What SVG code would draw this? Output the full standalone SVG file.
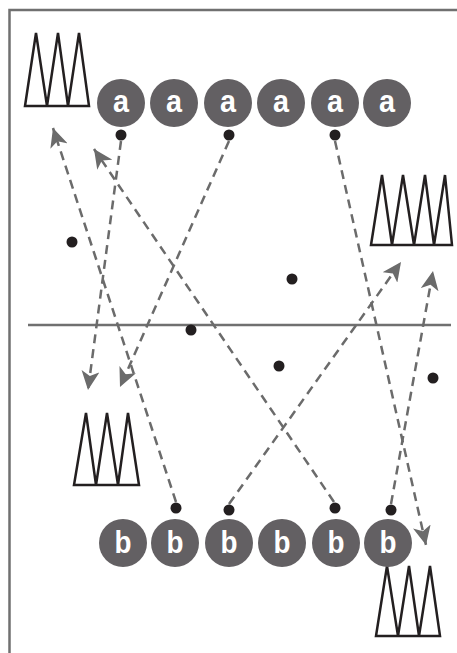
<svg xmlns="http://www.w3.org/2000/svg" width="457" height="653" viewBox="0 0 457 653">
<style>
.frame{fill:none;stroke:#707070;stroke-width:2.5}
.cone{fill:#fff;stroke:#231f20;stroke-width:2.5;stroke-linejoin:miter}
.pl{fill:#636063}
.lbl{fill:#fff;font-family:"Liberation Sans",Arial,sans-serif;font-weight:bold;font-size:31px;text-anchor:middle}
.dot{fill:#231f20}
.arr{fill:none;stroke:#6b6b6b;stroke-width:2.5;stroke-dasharray:9 6;marker-end:url(#ah)}
</style>
<defs>
<marker id="ah" markerUnits="userSpaceOnUse" markerWidth="20" markerHeight="18" refX="19" refY="9" orient="auto" viewBox="0 0 20 18">
<path d="M0,0 L19,9 L0,18 L5,9 Z" fill="#6b6b6b"/>
</marker>
</defs>
<rect width="457" height="653" fill="#fff"/>
<g id="field">
<path class="frame" d="M9.5,653 V10 H457"/>
<line class="frame" x1="28" y1="325" x2="451" y2="325"/>
</g>
<g id="cones-top-left"><path class="cone" d="M25,106 L36,33 L47,106 L58,33 L68,106 L79,33 L89,106 Z"/></g>
<g id="cones-right"><path class="cone" d="M371,245 L382,175 L392,245 L403,175 L414,245 L425,175 L434,245 L445,175 L452,245 Z"/></g>
<g id="cones-bottom-left"><path class="cone" d="M74,485 L86,413 L96,485 L107,413 L118,485 L128,413 L139,485 Z"/></g>
<g id="cones-bottom-right"><path class="cone" d="M376,636 L387,566 L398,636 L409,566 L419,636 L430,566 L440,636 Z"/></g>
<g id="connectors">
<path class="arr" d="M121,141 L88,390"/>
<path class="arr" d="M229,141 L120,387"/>
<path class="arr" d="M335,141 L426,545"/>
<path class="arr" d="M176,502 L53,128"/>
<path class="arr" d="M334,502 L94,149"/>
<path class="arr" d="M229,504 L401,262"/>
<path class="arr" d="M391,504 L433,271"/>
</g>
<g id="players-a">
<g id="a1"><circle class="pl" cx="121" cy="103" r="24"/><text class="lbl" x="121" y="112" textLength="16" lengthAdjust="spacingAndGlyphs">a</text></g>
<g id="a2"><circle class="pl" cx="174" cy="103" r="24"/><text class="lbl" x="174" y="112" textLength="16" lengthAdjust="spacingAndGlyphs">a</text></g>
<g id="a3"><circle class="pl" cx="228" cy="103" r="24"/><text class="lbl" x="228" y="112" textLength="16" lengthAdjust="spacingAndGlyphs">a</text></g>
<g id="a4"><circle class="pl" cx="281" cy="103" r="24"/><text class="lbl" x="281" y="112" textLength="16" lengthAdjust="spacingAndGlyphs">a</text></g>
<g id="a5"><circle class="pl" cx="335" cy="103" r="24"/><text class="lbl" x="335" y="112" textLength="16" lengthAdjust="spacingAndGlyphs">a</text></g>
<g id="a6"><circle class="pl" cx="387" cy="103" r="24"/><text class="lbl" x="387" y="112" textLength="16" lengthAdjust="spacingAndGlyphs">a</text></g>
</g>
<g id="players-b">
<g id="b1"><circle class="pl" cx="123" cy="543" r="24"/><text class="lbl" x="123" y="553" textLength="17" lengthAdjust="spacingAndGlyphs">b</text></g>
<g id="b2"><circle class="pl" cx="175" cy="543" r="24"/><text class="lbl" x="175" y="553" textLength="17" lengthAdjust="spacingAndGlyphs">b</text></g>
<g id="b3"><circle class="pl" cx="229" cy="543" r="24"/><text class="lbl" x="229" y="553" textLength="17" lengthAdjust="spacingAndGlyphs">b</text></g>
<g id="b4"><circle class="pl" cx="282" cy="543" r="24"/><text class="lbl" x="282" y="553" textLength="17" lengthAdjust="spacingAndGlyphs">b</text></g>
<g id="b5"><circle class="pl" cx="336" cy="543" r="24"/><text class="lbl" x="336" y="553" textLength="17" lengthAdjust="spacingAndGlyphs">b</text></g>
<g id="b6"><circle class="pl" cx="388" cy="543" r="24"/><text class="lbl" x="388" y="553" textLength="17" lengthAdjust="spacingAndGlyphs">b</text></g>
</g>
<g id="balls">
<circle class="dot" cx="121" cy="135" r="5.5"/>
<circle class="dot" cx="229" cy="135" r="5.5"/>
<circle class="dot" cx="335" cy="135" r="5.5"/>
<circle class="dot" cx="176" cy="508" r="5.5"/>
<circle class="dot" cx="229" cy="510" r="5.5"/>
<circle class="dot" cx="335" cy="508" r="5.5"/>
<circle class="dot" cx="391" cy="510" r="5.5"/>
</g>
<g id="free-players">
<circle class="dot" cx="72" cy="242" r="5.5"/>
<circle class="dot" cx="191" cy="330" r="5.5"/>
<circle class="dot" cx="292" cy="279" r="5.5"/>
<circle class="dot" cx="279" cy="366" r="5.5"/>
<circle class="dot" cx="433" cy="378" r="5.5"/>
</g>
</svg>
